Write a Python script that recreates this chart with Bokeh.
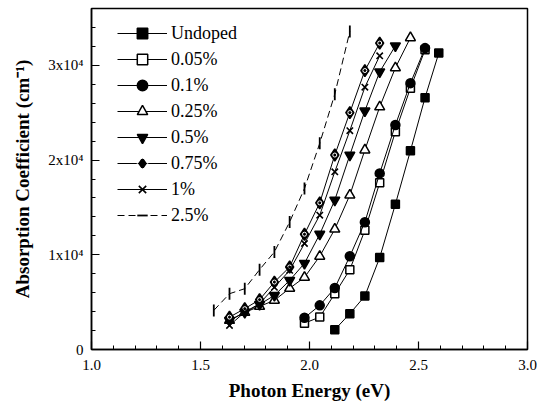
import numpy as np
from bokeh.plotting import figure
from bokeh.models import (Range1d, FixedTicker, CustomJSTickFormatter, Legend, LegendItem)
from bokeh.embed import file_html
from bokeh.resources import INLINE

# ---- data ----
undoped_x = [2.116, 2.185, 2.254, 2.322, 2.394, 2.463, 2.530, 2.593]
undoped_y = [2090, 3780, 5640, 9700, 15340, 20980, 26590, 31290]

p005_x = [1.977, 2.047, 2.116, 2.185, 2.254, 2.322, 2.394, 2.463, 2.530]
p005_y = [2780, 3420, 5890, 8430, 12590, 17600, 23000, 27590, 31640]

p01_x = [1.977, 2.047, 2.116, 2.185, 2.254, 2.322, 2.394, 2.463, 2.530]
p01_y = [3350, 4660, 6490, 9840, 13440, 18590, 23700, 28120, 31820]

p025_x = [1.633, 1.703, 1.771, 1.839, 1.909, 1.977, 2.047, 2.116, 2.185, 2.254, 2.322, 2.394, 2.463]
p025_y = [3070, 3920, 4550, 5190, 6460, 7620, 9840, 12700, 16300, 21060, 25610, 29740, 32910]

p05_x = [1.633, 1.703, 1.771, 1.839, 1.909, 1.977, 2.047, 2.116, 2.185, 2.254, 2.322, 2.394]
p05_y = [3070, 3920, 4760, 5710, 7300, 9100, 12170, 15770, 20530, 25190, 29310, 32060]

p075_x = [1.633, 1.703, 1.771, 1.839, 1.909, 1.977, 2.047, 2.116, 2.185, 2.254, 2.322]
p075_y = [3420, 4310, 5260, 7120, 8710, 12170, 15480, 20530, 25010, 29450, 32350]

p1_x = [1.633, 1.703, 1.771, 1.839, 1.909, 1.977, 2.047, 2.116, 2.185, 2.254, 2.322]
p1_y = [2540, 3950, 4840, 6560, 8360, 11190, 14180, 18760, 23100, 27690, 31010]

p25_x = [1.561, 1.633, 1.703, 1.771, 1.839, 1.909, 1.977, 2.047, 2.116, 2.185]
p25_y = [4130, 5890, 6420, 8430, 10300, 13470, 17000, 21770, 26950, 33580]

labels = ["Undoped", "0.05%", "0.1%", "0.25%", "0.5%", "0.75%", "1%", "2.5%"]
x_ticks = [1.0, 1.5, 2.0, 2.5, 3.0]
y_ticks = [0, 10000, 20000, 30000]

FONT = "Liberation Serif"

p = figure(width=537, height=410, output_backend="svg", toolbar_location=None,
           x_range=Range1d(1.0, 3.0), y_range=Range1d(0, 36000),
           min_border_left=91, min_border_right=10, min_border_top=8, min_border_bottom=61)
p.xgrid.visible = False
p.ygrid.visible = False
p.outline_line_color = "black"
p.outline_line_width = 1.5
p.background_fill_color = "white"
p.border_fill_color = "white"

p.xaxis.ticker = FixedTicker(ticks=x_ticks, minor_ticks=[round(1.0 + 0.1 * i, 2) for i in range(21)])
p.yaxis.ticker = FixedTicker(ticks=y_ticks, minor_ticks=list(range(0, 36001, 2000)))
p.xaxis.formatter = CustomJSTickFormatter(code="return tick.toFixed(1);")
p.yaxis.formatter = CustomJSTickFormatter(code="if (tick == 0) {return '0';} return (tick/10000).toFixed(0) + 'x10\u2074';")

for ax in (p.xaxis[0], p.yaxis[0]):
    ax.axis_line_width = 1.5
    ax.major_tick_in = 8
    ax.major_tick_out = 0
    ax.minor_tick_in = 4
    ax.minor_tick_out = 0
    ax.major_tick_line_width = 1.2
    ax.minor_tick_line_width = 1.0
    ax.major_label_text_font = FONT
    ax.major_label_text_font_size = "15px"
    ax.major_label_text_color = "black"
    ax.axis_label_text_font = FONT
    ax.axis_label_text_font_style = "bold"
    ax.axis_label_text_font_size = "19px"
    ax.axis_label_text_color = "black"

p.xaxis.axis_label = "Photon Energy (eV)"
p.yaxis.axis_label = "Absorption Coefficient (cm\u207b\u00b9)"
p.xaxis.major_label_standoff = 10
p.yaxis.major_label_standoff = 8
p.xaxis.axis_label_standoff = 7
p.yaxis.axis_label_standoff = 12

items = []

def series(x, y, marker, fill, size, dash="solid", angle=0.0, lw=1.5):
    r_line = p.line(x, y, line_color="black", line_width=1, line_dash=dash)
    r_m = p.scatter(x, y, marker=marker, size=size, fill_color=fill, line_color="black",
                    line_width=lw, angle=angle, angle_units="rad")
    return [r_line, r_m]

rs = series(undoped_x, undoped_y, "square", "black", 8)
items.append(LegendItem(label=labels[0], renderers=rs))
rs = series(p005_x, p005_y, "square", "white", 8)
items.append(LegendItem(label=labels[1], renderers=rs))
rs = series(p01_x, p01_y, "circle", "black", 9)
items.append(LegendItem(label=labels[2], renderers=rs))
rs = series(p025_x, p025_y, "triangle", "white", 10)
items.append(LegendItem(label=labels[3], renderers=rs))
rs = series(p05_x, p05_y, "inverted_triangle", "black", 10)
items.append(LegendItem(label=labels[4], renderers=rs))
rs = series(p075_x, p075_y, "diamond", "black", 12)
r_dot = p.scatter(p075_x, p075_y, marker="circle", size=4, fill_color=None, line_color="white", line_width=1)
items.append(LegendItem(label=labels[5], renderers=rs + [r_dot]))
rs = series(p1_x, p1_y, "x", None, 9, lw=1.6)
items.append(LegendItem(label=labels[6], renderers=rs))
rs = series(p25_x, p25_y, "dash", None, 12, dash="7 4", angle=np.pi / 2, lw=1.8)
items.append(LegendItem(label=labels[7], renderers=rs))

legend = Legend(items=items, location=(26, 121))
legend.border_line_color = None
legend.background_fill_alpha = 0
legend.padding = 0
legend.margin = 0
legend.spacing = 0
legend.glyph_width = 50
legend.glyph_height = 26
legend.label_height = 26
legend.label_standoff = 4
legend.label_text_font = FONT
legend.label_text_font_size = "18px"
legend.label_text_color = "black"
legend.label_text_baseline = "middle"
p.add_layout(legend, "center")

open("out.html", "w").write(file_html(p, INLINE))
